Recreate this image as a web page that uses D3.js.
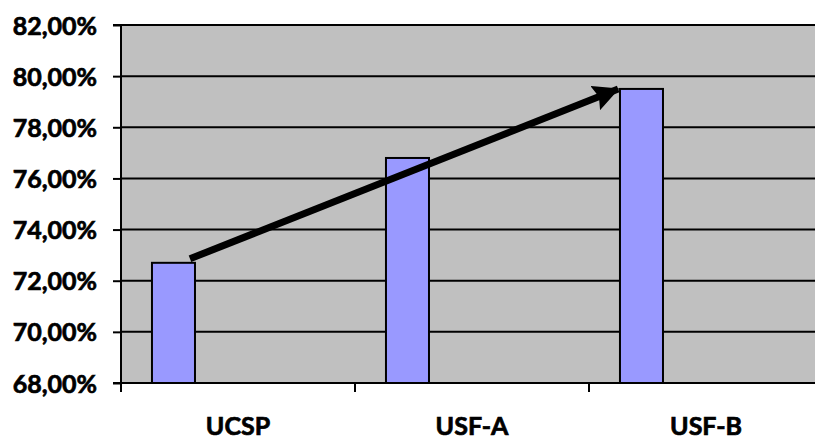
<!DOCTYPE html>
<html>
<head>
<meta charset="utf-8">
<script src="https://cdn.jsdelivr.net/npm/d3@7"></script>
<style>
  html, body { margin: 0; padding: 0; background: #fff; }
  svg { display: block; }
  text { font-family: Lato, "Open Sans", sans-serif; font-weight: 700; fill: #000;
         stroke: #000; stroke-width: 0.7px; }
</style>
</head>
<body>
<svg id="chart" width="815" height="439"></svg>
<script>
// Categories and values (share, %)
const categories = ["UCSP", "USF-A", "USF-B"];
const values = [72.7, 76.8, 79.5];
// Series slots per category (only the first one carries data)
const seriesSlots = ["s1", "s2", "s3", "s4"];
const yTicks = [68, 70, 72, 74, 76, 78, 80, 82];

const svg = d3.select("#chart");
const plot = { left: 121, top: 25, bottom: 383, right: 823 };

const x = d3.scaleBand().domain(categories).range([plot.left, plot.right]).padding(0);
const xs = d3.scaleBand().domain(seriesSlots).range([0, x.bandwidth()])
  .paddingInner(0).paddingOuter(0.72);
const y = d3.scaleLinear().domain([68, 82]).range([plot.bottom, plot.top]);

const fmt = v => d3.format(".2f")(v).replace(".", ",") + "%";

// plot background
svg.append("rect")
  .attr("x", plot.left).attr("y", plot.top)
  .attr("width", plot.right - plot.left).attr("height", plot.bottom - plot.top)
  .attr("fill", "#c0c0c0");

// horizontal gridlines
svg.append("g").selectAll("line").data(yTicks.filter(t => t !== 68)).join("line")
  .attr("x1", plot.left).attr("x2", plot.right)
  .attr("y1", d => y(d)).attr("y2", d => y(d))
  .attr("stroke", "#000").attr("stroke-width", 2);

// bars
svg.append("g").selectAll("rect").data(values).join("rect")
  .attr("x", (d, i) => x(categories[i]) + xs("s1"))
  .attr("y", d => y(d))
  .attr("width", xs.bandwidth())
  .attr("height", d => plot.bottom - y(d))
  .attr("fill", "#9999ff")
  .attr("stroke", "#000").attr("stroke-width", 2);

// y axis
const yAxis = svg.append("g").attr("transform", `translate(${plot.left},0)`)
  .call(d3.axisLeft(y).tickValues(yTicks).tickFormat(fmt).tickSize(8).tickPadding(16));
yAxis.select(".domain").attr("stroke-width", 2).attr("d", `M-8,${plot.top}H0V${plot.bottom}`);
yAxis.selectAll(".tick line").attr("stroke-width", 2);
yAxis.selectAll(".tick text").attr("font-size", 25).attr("font-family", null)
  .attr("fill", null).attr("dy", "0.36em");

// x axis: ticks at category boundaries
const xAxis = svg.append("g").attr("transform", `translate(0,${plot.bottom})`);
xAxis.append("line").attr("x1", plot.left - 8).attr("x2", plot.right)
  .attr("stroke", "#000").attr("stroke-width", 2);
xAxis.selectAll("line.tk").data(categories).join("line").attr("class", "tk")
  .attr("x1", d => x(d)).attr("x2", d => x(d))
  .attr("y1", 0).attr("y2", 9)
  .attr("stroke", "#000").attr("stroke-width", 2);
xAxis.selectAll("text").data(categories).join("text")
  .attr("x", d => x(d) + x.bandwidth() / 2)
  .attr("y", 52)
  .attr("text-anchor", "middle")
  .attr("font-size", 25)
  .text(d => d);

// trend arrow from first to last category
const defs = svg.append("defs");
defs.append("marker").attr("id", "head")
  .attr("viewBox", "0 0 10 10").attr("refX", 9.5).attr("refY", 5)
  .attr("markerWidth", 3.7).attr("markerHeight", 3.7)
  .attr("markerUnits", "strokeWidth").attr("orient", "auto")
  .append("path").attr("d", "M0,0L10,5L0,10L1.5,5z").attr("fill", "#000");

const x0 = x(categories[0]) + xs("s1") + xs.bandwidth() - 5;
const y0 = y(values[0]) - 4;
const x1 = x(categories[2]) + xs("s1") + 1;
const y1 = y(values[2]) - 1;
// shorten the shaft so the head tip lands on (x1, y1)
const ang = Math.atan2(y1 - y0, x1 - x0);
svg.append("line")
  .attr("x1", x0).attr("y1", y0)
  .attr("x2", x1 - 3 * Math.cos(ang)).attr("y2", y1 - 3 * Math.sin(ang))
  .attr("stroke", "#000").attr("stroke-width", 7)
  .attr("marker-end", "url(#head)");
</script>
</body>
</html>
